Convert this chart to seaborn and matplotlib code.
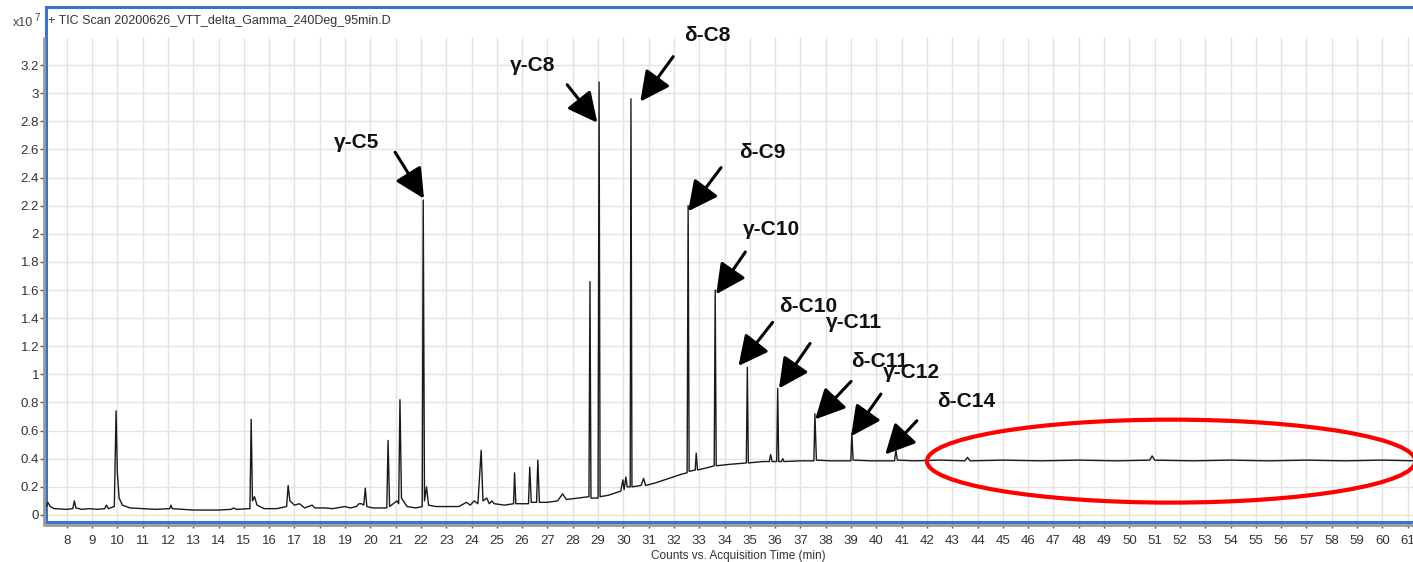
import numpy as np
import pandas as pd
import matplotlib
matplotlib.use("Agg")
import matplotlib.pyplot as plt
import seaborn as sns
from matplotlib.patches import Ellipse
from matplotlib.lines import Line2D

# ---- data ----
time_min = [7.2, 7.25, 7.35, 7.5, 8.0, 8.24, 8.3, 8.36, 8.6, 8.9, 9.2, 9.5, 9.57, 9.65,
            9.88, 9.95, 10.0, 10.07, 10.2, 10.5, 11.0, 11.5, 12.07, 12.12, 12.17, 12.6,
            13.0, 13.5, 14.0, 14.5, 14.6, 14.7, 15.24, 15.29, 15.34, 15.42, 15.52, 15.8,
            16.3, 16.69, 16.75, 16.82, 17.0, 17.2, 17.4, 17.7, 17.8, 18.2, 18.5, 19.0,
            19.2, 19.45, 19.55, 19.65, 19.74, 19.8, 19.86, 20.1, 20.65, 20.7, 20.76,
            21.05, 21.12, 21.17, 21.23, 21.45, 21.8, 22.05, 22.09, 22.14, 22.22, 22.3,
            22.6, 23.0, 23.5, 23.8, 23.95, 24.1, 24.25, 24.38, 24.45, 24.6, 24.7, 24.8,
            24.9, 25.3, 25.66, 25.7, 25.75, 26.25, 26.3, 26.36, 26.57, 26.62, 26.68, 27.0,
            27.4, 27.6, 27.75, 28.2, 28.64, 28.68, 28.72, 29.0, 29.04, 29.08, 29.4,
            29.9, 29.98, 30.03, 30.1, 30.15, 30.27, 30.3, 30.34, 30.7, 30.8, 30.88, 31.3,
            31.8, 32.3, 32.52, 32.56, 32.6, 32.84, 32.88, 32.93, 33.4, 33.59, 33.63,
            33.67, 34.2, 34.86, 34.9, 34.94, 35.5, 35.77, 35.82, 35.88, 36.06, 36.1, 36.14,
            36.25, 36.3, 36.35, 37.0, 37.53, 37.57, 37.63, 38.2, 38.99, 39.03, 39.08,
            39.8, 40.72, 40.77, 40.83, 41.5, 42.5, 43.5, 43.6, 43.7, 45.0, 46.5, 48.0,
            49.5, 50.8, 50.9, 51.0, 52.5, 54.0, 55.5, 57.0, 58.5, 60.0, 61.3]
counts_1e7 = [0.06, 0.09, 0.06, 0.045, 0.04, 0.045, 0.1, 0.05, 0.04, 0.045, 0.04, 0.045, 0.07, 0.045,
              0.06, 0.74, 0.3, 0.12, 0.07, 0.05, 0.045, 0.04, 0.045, 0.07, 0.045, 0.04,
              0.035, 0.035, 0.035, 0.04, 0.05, 0.04, 0.045, 0.68, 0.1, 0.13, 0.07, 0.045,
              0.045, 0.06, 0.21, 0.1, 0.07, 0.08, 0.05, 0.07, 0.05, 0.05, 0.045, 0.06,
              0.05, 0.06, 0.08, 0.08, 0.07, 0.19, 0.06, 0.05, 0.05, 0.53, 0.06,
              0.1, 0.08, 0.82, 0.12, 0.06, 0.05, 0.06, 2.24, 0.1, 0.2, 0.07,
              0.06, 0.06, 0.06, 0.09, 0.07, 0.1, 0.08, 0.46, 0.1, 0.12, 0.08, 0.1,
              0.08, 0.07, 0.08, 0.3, 0.08, 0.08, 0.34, 0.09, 0.09, 0.39, 0.09, 0.09,
              0.1, 0.15, 0.11, 0.12, 0.13, 1.66, 0.12, 0.12, 3.08, 0.13, 0.14,
              0.17, 0.25, 0.18, 0.27, 0.2, 0.2, 2.96, 0.2, 0.21, 0.26, 0.21, 0.23,
              0.26, 0.29, 0.3, 2.2, 0.31, 0.32, 0.44, 0.32, 0.34, 0.35, 1.6,
              0.35, 0.36, 0.37, 1.05, 0.37, 0.38, 0.38, 0.43, 0.38, 0.38, 0.9, 0.38,
              0.38, 0.4, 0.38, 0.385, 0.385, 0.72, 0.39, 0.385, 0.385, 0.58, 0.39,
              0.385, 0.385, 0.46, 0.39, 0.385, 0.39, 0.385, 0.41, 0.385, 0.39, 0.385, 0.39,
              0.385, 0.39, 0.42, 0.39, 0.385, 0.39, 0.385, 0.39, 0.385, 0.39, 0.385]

labels = ["γ-C5", "γ-C8", "δ-C8", "δ-C9", "γ-C10", "δ-C10", "γ-C11", "δ-C11", "γ-C12", "δ-C14"]
label_xy = [(19.45, 2.65), (26.4, 3.2), (33.3, 3.41), (35.5, 2.58), (35.85, 2.03),
            (37.3, 1.48), (39.1, 1.37), (40.15, 1.09), (41.4, 1.01), (43.55, 0.81)]
arrow_tail = [(20.98, 2.58), (27.78, 3.06), (31.97, 3.26), (33.86, 2.47), (34.82, 1.87),
              (35.9, 1.37), (37.38, 1.22), (39.0, 0.95), (40.18, 0.86), (41.6, 0.67)]
arrow_tip = [(22.12, 2.25), (28.97, 2.79), (30.67, 2.94), (32.56, 2.16), (33.67, 1.57),
             (34.55, 1.06), (36.15, 0.9), (37.58, 0.68), (39.0, 0.56), (40.35, 0.43)]

x_ticks = list(range(8, 62))
y_ticks = [0, 0.2, 0.4, 0.6, 0.8, 1, 1.2, 1.4, 1.6, 1.8, 2, 2.2, 2.4, 2.6, 2.8, 3, 3.2]
y_tick_labels = ["0", "0.2", "0.4", "0.6", "0.8", "1", "1.2", "1.4", "1.6", "1.8", "2",
                 "2.2", "2.4", "2.6", "2.8", "3", "3.2"]

title = "+ TIC Scan 20200626_VTT_delta_Gamma_240Deg_95min.D"
xlabel = "Counts vs. Acquisition Time (min)"

# ---- style ----
sns.set_theme(style="white")
plt.rcParams['font.family'] = ['Liberation Sans', 'DejaVu Sans']

fig = plt.figure(figsize=(14.13, 5.62), dpi=100)
W, H = 1413, 562
ax = fig.add_axes([46 / W, (H - 522) / H, 1 - 46 / W, (522 - 7) / H])

xmin, xmax = 7.18, 61.21
ymin, ymax = -0.05, 3.613
ax.set_xlim(xmin, xmax)
ax.set_ylim(ymin, ymax)

grid_c = "#e3e3e3"
ax.vlines(x_ticks, ymin, 3.4, color=grid_c, lw=1.0, zorder=0)
ax.hlines(y_ticks, xmin, xmax, color=grid_c, lw=1.0, zorder=0)

df = pd.DataFrame({"t": time_min, "c": counts_1e7})
sns.lineplot(data=df, x="t", y="c", ax=ax, estimator=None, sort=False,
             color="#1a1a1a", lw=1.0, zorder=3)
ax.set_xlabel("")
ax.set_ylabel("")

ax.set_xticks(x_ticks)
ax.set_xticklabels([str(v) for v in x_ticks])
ax.set_yticks(y_ticks)
ax.set_yticklabels(y_tick_labels)
ax.tick_params(axis="both", direction="out", length=4, width=1, color="#555555",
               labelcolor="#333333", labelsize=9.5, bottom=True, left=True)
ax.tick_params(axis="x", pad=5)
ax.tick_params(axis="y", pad=1)

blue = "#3a72d0"
for s in ["left", "bottom", "top"]:
    ax.spines[s].set_visible(True)
    ax.spines[s].set_color(blue)
    ax.spines[s].set_linewidth(2.2)
ax.spines["right"].set_visible(False)

# gray shadow lines along left and bottom edges
fig.add_artist(Line2D([43.5 / W, 43.5 / W], [(H - 524) / H, (H - 38) / H],
                      transform=fig.transFigure, color="#9a9a9a", lw=2.0))
fig.add_artist(Line2D([43.5 / W, 1.0], [(H - 524.5) / H, (H - 524.5) / H],
                      transform=fig.transFigure, color="#9a9a9a", lw=2.0))

# annotations
for lab, txy, tail, tip in zip(labels, label_xy, arrow_tail, arrow_tip):
    ax.text(txy[0], txy[1], lab, ha="center", va="center", fontsize=15,
            fontweight="bold", color="#111111", zorder=5)
    ax.annotate("", xy=tip, xytext=tail,
                arrowprops=dict(arrowstyle="-|>,head_length=0.7,head_width=0.35",
                                lw=2.2, color="black",
                                mutation_scale=26, shrinkA=0, shrinkB=0),
                zorder=5)

ell = Ellipse((51.65, 0.383), width=19.3, height=0.59, fill=False,
              edgecolor="red", lw=3.0, clip_on=False, zorder=6)
ax.add_patch(ell)

# header texts
fig.text(48 / W, 1 - 21 / H, title, fontsize=9, color="#333333", va="center", ha="left")
fig.text(33 / W, 1 - 23 / H, "x10", fontsize=9, color="#444444", va="center", ha="right")
fig.text(34.5 / W, 1 - 18 / H, "7", fontsize=7, color="#444444", va="center", ha="left")

fig.text(738 / W, 1 - 556 / H, xlabel, fontsize=8.5, color="#333333", va="center", ha="center")

fig.savefig("out.png", dpi=100)
